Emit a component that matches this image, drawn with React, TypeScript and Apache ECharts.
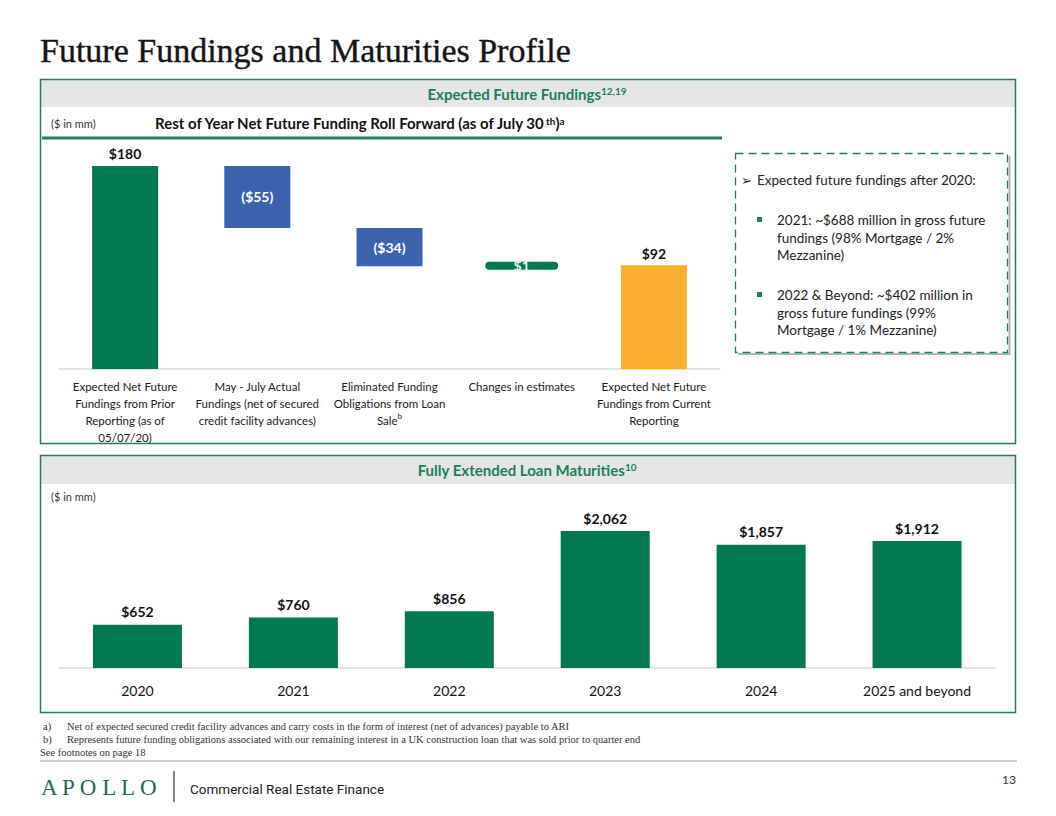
import React, { useEffect, useRef } from "react";
import * as echarts from "echarts";

// ---------- data ----------
const fundingCategories = [
  "Expected Net Future\nFundings from Prior\nReporting (as of\n05/07/20)",
  "May - July Actual\nFundings (net of secured\ncredit facility advances)",
  "Eliminated Funding\nObligations from Loan\nSale{sup|b}",
  "Changes in estimates",
  "Expected Net Future\nFundings from Current\nReporting",
];
const fundingValues = [180, -55, -34, 1, 92];
const fundingKinds = ["total", "change", "change", "change", "total"];

const maturityYears = ["2020", "2021", "2022", "2023", "2024", "2025 and beyond"];
const maturityValues = [652, 760, 856, 2062, 1857, 1912];

const boxLines1 = ["2021: ~$688 million in gross future", "fundings (98% Mortgage / 2%", "Mezzanine)"];
const boxLines2 = ["2022 & Beyond: ~$402 million in", "gross future fundings (99%", "Mortgage / 1% Mezzanine)"];

const footnoteA = "Net of expected secured credit facility advances and carry costs in the form of interest (net of advances) payable to ARI";
const footnoteB = "Represents future funding obligations associated with our remaining interest in a UK construction loan that was sold prior to quarter end";

// ---------- colors ----------
const GREEN = "#007852";
const BLUE = "#3964ad";
const ORANGE = "#fbae2d";
const BORDER = "#1f7d5a";
const HEADER_GREEN = "#17805a";
const BAND = "#e6e6e6";
const SANS = "Lato";
const SERIF = "Liberation Serif";

export default function App() {
  const ref = useRef<HTMLDivElement>(null);

  useEffect(() => {
    if (!ref.current) return;
    const chart = echarts.init(ref.current, undefined, { renderer: "svg" });

    // waterfall computation
    const bases: number[] = [];
    const heights: any[] = [];
    let running = 0;
    fundingValues.forEach((v, i) => {
      const kind = fundingKinds[i];
      const isTotal = kind === "total";
      let base = 0;
      if (isTotal) {
        base = 0;
        running = v;
      } else {
        base = Math.min(running, running + v);
        running += v;
      }
      bases.push(base);
      const color = isTotal ? (i === 0 ? GREEN : ORANGE) : v < 0 ? BLUE : GREEN;
      const text = isTotal ? `$${v}` : v < 0 ? `($${Math.abs(v)})` : `$${v}`;
      const item: any = {
        value: Math.abs(v),
        itemStyle: { color },
        label: {
          show: true,
          position: isTotal ? "top" : "inside",
          distance: 5,
          color: isTotal ? "#111" : v < 0 ? "#fff" : "#e9f6ef",
          fontFamily: SANS,
          fontWeight: "bold",
          fontSize: 14,
          formatter: () => text,
        },
      };
      if (!isTotal && Math.abs(v) < 3) {
        item.itemStyle = { color, borderColor: color, borderWidth: 8, borderJoin: "round" };
      }
      heights.push(item);
    });

    const headerRich = {
      m: { fontFamily: SANS, fontSize: 15, fontWeight: "bold", fill: HEADER_GREEN },
      sup: { fontFamily: SANS, fontSize: 10, fontWeight: "bold", fill: HEADER_GREEN, verticalAlign: "top" },
    };

    const option: any = {
      animation: false,
      grid: [
        { left: 59, top: 143.4, width: 661, height: 225.6 },
        { left: 59.5, top: 502, width: 935.5, height: 166 },
      ],
      xAxis: [
        {
          gridIndex: 0,
          type: "category",
          data: fundingCategories,
          axisLine: { lineStyle: { color: "#d9d9d9", width: 1.5 } },
          axisTick: { show: false },
          axisLabel: {
            interval: 0,
            fontFamily: SANS,
            fontSize: 11.5,
            color: "#1a1a1a",
            lineHeight: 17,
            margin: 9,
            rich: { sup: { fontFamily: SANS, fontSize: 8, color: "#1a1a1a", verticalAlign: "top" } },
          },
        },
        {
          gridIndex: 1,
          type: "category",
          data: maturityYears,
          axisLine: { lineStyle: { color: "#d9d9d9", width: 1.5 } },
          axisTick: { show: false },
          axisLabel: { interval: 0, fontFamily: SANS, fontSize: 14, color: "#111", margin: 15 },
        },
      ],
      yAxis: [
        { gridIndex: 0, type: "value", min: 0, max: 200, show: false },
        { gridIndex: 1, type: "value", min: 0, max: 2500, show: false },
      ],
      series: [
        {
          type: "bar",
          xAxisIndex: 0,
          yAxisIndex: 0,
          stack: "wf",
          barWidth: 66,
          silent: true,
          itemStyle: { color: "transparent" },
          data: bases,
        },
        {
          type: "bar",
          xAxisIndex: 0,
          yAxisIndex: 0,
          stack: "wf",
          barWidth: 66,
          data: heights,
        },
        {
          type: "bar",
          xAxisIndex: 1,
          yAxisIndex: 1,
          barWidth: 89,
          itemStyle: { color: GREEN },
          label: {
            show: true,
            position: "top",
            distance: 6,
            fontFamily: SANS,
            fontWeight: "bold",
            fontSize: 14,
            color: "#111",
            formatter: (p: any) => "$" + Number(p.value).toLocaleString("en-US"),
          },
          data: maturityValues,
        },
      ],
      graphic: [
        // title
        {
          type: "text",
          x: 40,
          y: 50,
          style: {
            text: "Future Fundings and Maturities Profile",
            fontFamily: SERIF,
            fontSize: 34,
            fill: "#141414",
            stroke: "#141414",
            lineWidth: 0.4,
            verticalAlign: "middle",
          },
        },
        // top panel
        { type: "rect", shape: { x: 41, y: 80, width: 974, height: 27 }, style: { fill: BAND } },
        {
          type: "rect",
          shape: { x: 40.5, y: 79.5, width: 975, height: 364 },
          style: { fill: "none", stroke: BORDER, lineWidth: 1.5 },
        },
        {
          type: "text",
          x: 527,
          y: 93.5,
          style: {
            text: "{m|Expected Future Fundings}{sup|12,19}",
            fontFamily: SANS,
            fontSize: 15,
            fontWeight: "bold",
            fill: HEADER_GREEN,
            align: "center",
            verticalAlign: "middle",
            rich: headerRich,
          },
        },
        {
          type: "text",
          x: 51,
          y: 123,
          style: { text: "($ in mm)", fontFamily: SANS, fontSize: 11, fill: "#333", verticalAlign: "middle" },
        },
        {
          type: "text",
          x: 155,
          y: 123,
          style: {
            text: "{m|Rest of Year Net Future Funding Roll Forward (as of July 30}{s|th}{m|)}{s|a}",
            fontFamily: SANS,
            fontSize: 15,
            fontWeight: "bold",
            fill: "#111",
            verticalAlign: "middle",
            rich: {
              m: { fontFamily: SANS, fontSize: 15, fontWeight: "bold", fill: "#111" },
              s: { fontFamily: SANS, fontSize: 10, fontWeight: "bold", fill: "#111", verticalAlign: "top" },
            },
          },
        },
        { type: "line", shape: { x1: 42, y1: 138, x2: 722, y2: 138 }, style: { stroke: BORDER, lineWidth: 3 } },
        // dashed box shadow + border
        {
          type: "polyline",
          shape: { points: [[738, 354], [1009.5, 354], [1009.5, 156]] },
          style: { stroke: "#b5b5b5", lineWidth: 2, fill: "none" },
        },
        {
          type: "rect",
          shape: { x: 735.5, y: 153.5, width: 272, height: 199 },
          style: { fill: "#fff", stroke: BORDER, lineWidth: 1.3, lineDash: [8, 5] },
        },
        {
          type: "text",
          x: 741,
          y: 180,
          style: { text: "➢", fontFamily: "DejaVu Sans", fontSize: 13, fill: "#222", verticalAlign: "middle" },
        },
        {
          type: "text",
          x: 757,
          y: 180,
          style: { text: "Expected future fundings after 2020:", fontFamily: SANS, fontSize: 13.5, fill: "#222", verticalAlign: "middle" },
        },
        { type: "rect", shape: { x: 757, y: 217, width: 5, height: 5 }, style: { fill: BORDER } },
        {
          type: "text",
          x: 777,
          y: 211.5,
          style: { text: boxLines1.join("\n"), fontFamily: SANS, fontSize: 13.5, lineHeight: 17.5, fill: "#222", verticalAlign: "top" },
        },
        { type: "rect", shape: { x: 757, y: 292, width: 5, height: 5 }, style: { fill: BORDER } },
        {
          type: "text",
          x: 777,
          y: 286.5,
          style: { text: boxLines2.join("\n"), fontFamily: SANS, fontSize: 13.5, lineHeight: 17.5, fill: "#222", verticalAlign: "top" },
        },
        // bottom panel
        { type: "rect", shape: { x: 41, y: 456, width: 974, height: 28 }, style: { fill: BAND } },
        {
          type: "rect",
          shape: { x: 40.5, y: 455.5, width: 975, height: 257 },
          style: { fill: "none", stroke: BORDER, lineWidth: 1.5 },
        },
        {
          type: "text",
          x: 527,
          y: 469.5,
          style: {
            text: "{m|Fully Extended Loan Maturities}{sup|10}",
            fontFamily: SANS,
            fontSize: 15,
            fontWeight: "bold",
            fill: HEADER_GREEN,
            align: "center",
            verticalAlign: "middle",
            rich: headerRich,
          },
        },
        {
          type: "text",
          x: 51,
          y: 496,
          style: { text: "($ in mm)", fontFamily: SANS, fontSize: 11, fill: "#333", verticalAlign: "middle" },
        },
        // footnotes
        { type: "text", x: 43, y: 726, style: { text: "a)", fontFamily: SERIF, fontSize: 10.5, fill: "#333", verticalAlign: "middle" } },
        { type: "text", x: 67, y: 726, style: { text: footnoteA, fontFamily: SERIF, fontSize: 10.5, fill: "#333", verticalAlign: "middle" } },
        { type: "text", x: 43, y: 739, style: { text: "b)", fontFamily: SERIF, fontSize: 10.5, fill: "#333", verticalAlign: "middle" } },
        { type: "text", x: 67, y: 739, style: { text: footnoteB, fontFamily: SERIF, fontSize: 10.5, fill: "#333", verticalAlign: "middle" } },
        {
          type: "text",
          x: 40,
          y: 752,
          style: { text: "See footnotes on page 18", fontFamily: SERIF, fontSize: 10.5, fill: "#333", verticalAlign: "middle" },
        },
        { type: "line", shape: { x1: 40, y1: 761, x2: 1017, y2: 761 }, style: { stroke: "#bdbdbd", lineWidth: 1.5 } },
        // footer
        {
          type: "text",
          x: 41,
          y: 787,
          style: { text: "A P O L L O", fontFamily: SERIF, fontSize: 23, fill: "#1d6b4c", verticalAlign: "middle" },
        },
        { type: "line", shape: { x1: 174, y1: 771, x2: 174, y2: 802 }, style: { stroke: "#333", lineWidth: 1.2 } },
        {
          type: "text",
          x: 190,
          y: 789,
          style: { text: "Commercial Real Estate Finance", fontFamily: "Roboto", fontSize: 13.5, fill: "#222", verticalAlign: "middle" },
        },
        {
          type: "text",
          x: 1002,
          y: 779,
          style: { text: "13", fontFamily: SANS, fontSize: 12, fill: "#333", verticalAlign: "middle" },
        },
      ],
    };

    chart.setOption(option);
    return () => chart.dispose();
  }, []);

  return (
    <div
      ref={ref}
      style={{ position: "absolute", left: 0, top: 0, width: 1056, height: 816, background: "#fff" }}
    />
  );
}
